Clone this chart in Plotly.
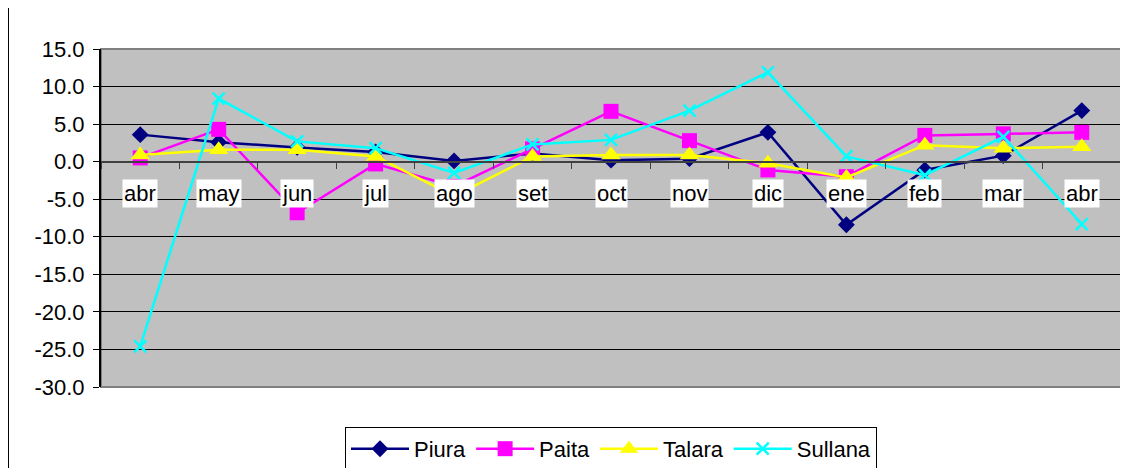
import plotly.graph_objects as go

months = ["abr", "may", "jun", "jul", "ago", "set", "oct", "nov", "dic", "ene", "feb", "mar", "abr"]
piura = [3.6, 2.6, 1.9, 1.3, 0.1, 1.1, 0.2, 0.4, 3.9, -8.4, -1.1, 0.8, 6.8]
paita = [0.5, 4.3, -6.8, -0.3, -3.3, 1.7, 6.7, 2.8, -1.1, -2.0, 3.5, 3.7, 3.9]
talara = [0.9, 1.6, 1.6, 0.7, -4.6, 0.7, 0.9, 0.9, -0.2, -2.1, 2.2, 1.8, 2.0]
sullana = [-24.6, 8.4, 2.7, 1.8, -1.5, 2.3, 2.9, 6.8, 11.9, 0.7, -1.8, 3.3, -8.3]
y_ticks = [15, 10, 5, 0, -5, -10, -15, -20, -25, -30]

FONT = "Liberation Sans, Arial, sans-serif"
FS = 22
xs = list(range(len(months)))

series = [
    ("Piura", piura, "#000080", "diamond", 13, None),
    ("Paita", paita, "#FF00FF", "square", 15, None),
    ("Talara", talara, "#FFFF00", "triangle-up", 17, None),
    ("Sullana", sullana, "#00FFFF", "x-thin", 12, 2.5),
]

fig = go.Figure()
for name, vals, color, sym, size, mlw in series:
    marker = dict(symbol=sym, size=size, color=color)
    if mlw:
        marker["line"] = dict(color=color, width=mlw)
    fig.add_trace(go.Scatter(
        x=xs, y=vals, name=name, mode="lines+markers",
        line=dict(color=color, width=2.5), marker=marker,
    ))

# category labels at the zero line with white boxes
for i, m in enumerate(months):
    fig.add_annotation(
        x=i, y=0, xref="x", yref="y", text=m, showarrow=False,
        yanchor="top", yshift=-17, bgcolor="white", borderpad=1,
        font=dict(family=FONT, size=FS, color="black"),
    )

# plot area border
fig.add_shape(type="rect", xref="paper", yref="paper", x0=0, x1=1, y0=0, y1=1,
              line=dict(color="#808080", width=2), layer="below")
# outer chart frame (left edge)
fig.add_shape(type="line", xref="paper", yref="paper",
              x0=-0.0907, x1=-0.0907, y0=-0.25, y1=1.15,
              line=dict(color="black", width=1))

# page body has an 8px margin, so the figure is sized/offset to compensate
fig.update_layout(
    width=1120, height=460,
    margin=dict(l=93, r=7, t=41, b=81, autoexpand=False),
    paper_bgcolor="white", plot_bgcolor="#C0C0C0",
    font=dict(family=FONT, size=FS, color="black"),
    showlegend=True,
    legend=dict(
        orientation="h", xanchor="center", x=0.5, yanchor="top", y=-0.118,
        bgcolor="white", bordercolor="black", borderwidth=1,
        font=dict(family=FONT, size=FS, color="black"),
        itemwidth=58, tracegroupgap=0,
    ),
    xaxis=dict(
        range=[-0.5, len(months) - 0.5], anchor="free", position=30 / 45,
        showgrid=False, zeroline=False, showline=True, linecolor="#404040", linewidth=2,
        tickmode="array", tickvals=[i - 0.5 for i in range(len(months) + 1)],
        ticks="outside", ticklen=6, tickcolor="#404040", showticklabels=False,
        automargin=False,
    ),
    yaxis=dict(
        range=[-30, 15], tickmode="array", tickvals=y_ticks,
        ticktext=[f"{v:.1f}" for v in y_ticks],
        showgrid=True, gridcolor="black", gridwidth=1, zeroline=False,
        showline=True, linecolor="black", linewidth=2,
        ticks="outside", ticklen=6, tickcolor="black", ticklabelstandoff=4,
        tickfont=dict(family=FONT, size=FS, color="black"),
        automargin=False,
    ),
)

fig.write_html("out.html")
